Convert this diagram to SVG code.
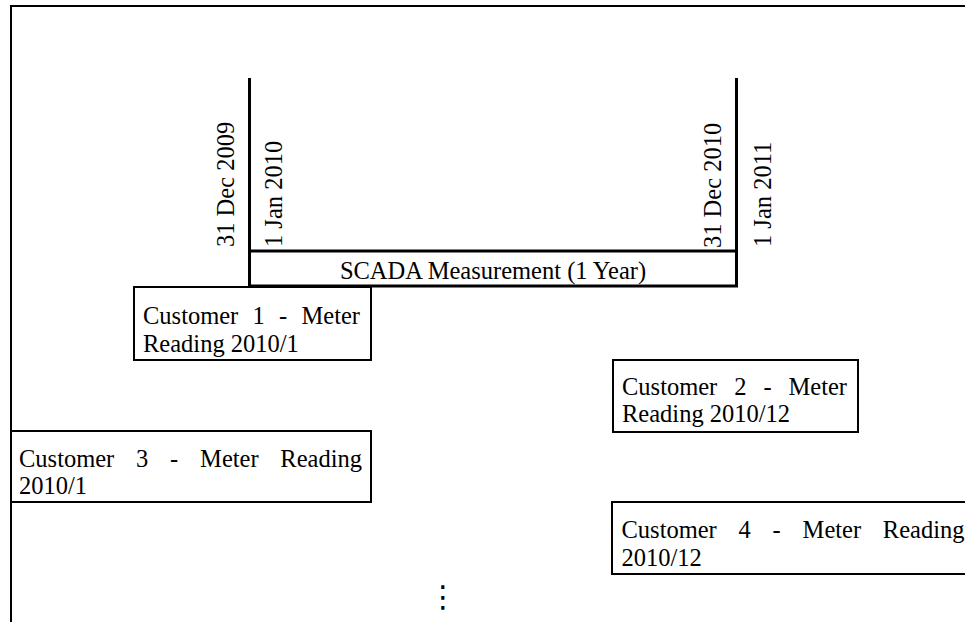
<svg xmlns="http://www.w3.org/2000/svg" width="965" height="622" viewBox="0 0 965 622">
<style>
  text { font-family: "Liberation Serif", "Times New Roman", serif; font-size: 24.5px; fill: #000; }
  .box { fill: #fff; stroke: #000; stroke-width: 2; }
  .frame { fill: none; stroke: #000; stroke-width: 2; }
  .scada { fill: none; stroke: #000; stroke-width: 3; }
  .end { text-anchor: end; }
</style>
<rect width="965" height="622" fill="#fff"/>
<g id="frame">
  <path class="frame" d="M11,622 V6 H966"/>
</g>
<g id="connectors">
  <path class="scada" d="M249.5,78 V286 H736.5 V78"/>
  <line class="scada" x1="249.5" y1="251" x2="736.5" y2="251"/>
</g>
<g id="dates">
  <text transform="translate(234,247) rotate(-90)">31 Dec 2009</text>
  <text transform="translate(282,247) rotate(-90)">1 Jan 2010</text>
  <text transform="translate(721,248) rotate(-90)">31 Dec 2010</text>
  <text transform="translate(771,247) rotate(-90)">1 Jan 2011</text>
</g>
<g id="scada">
  <text x="493" y="279" text-anchor="middle">SCADA Measurement (1 Year)</text>
</g>
<g id="customer1">
  <rect class="box" x="134" y="287" width="237" height="73"/>
  <text y="324"><tspan x="143">Customer</tspan><tspan x="252.6">1</tspan><tspan x="279.1">-</tspan><tspan x="360" class="end">Meter</tspan></text>
  <text x="143" y="352">Reading 2010/1</text>
</g>
<g id="customer2">
  <rect class="box" x="613" y="360" width="245" height="72"/>
  <text y="395"><tspan x="622">Customer</tspan><tspan x="734.2">2</tspan><tspan x="763.4">-</tspan><tspan x="847" class="end">Meter</tspan></text>
  <text x="622" y="422">Reading 2010/12</text>
</g>
<g id="customer3">
  <rect class="box" x="11" y="431" width="360" height="71"/>
  <text y="467"><tspan x="19">Customer</tspan><tspan x="136.1">3</tspan><tspan x="170.1">-</tspan><tspan x="200.1">Meter</tspan><tspan x="362" class="end">Reading</tspan></text>
  <text x="19" y="494">2010/1</text>
</g>
<g id="customer4">
  <rect class="box" x="612" y="502" width="362" height="72"/>
  <text y="538"><tspan x="621.5">Customer</tspan><tspan x="738.6">4</tspan><tspan x="772.6">-</tspan><tspan x="802.6">Meter</tspan><tspan x="964.5" class="end">Reading</tspan></text>
  <text x="621.5" y="566">2010/12</text>
</g>
<g id="ellipsis">
  <text x="443" y="607" text-anchor="middle" style="font-family: 'DejaVu Sans', sans-serif; font-size: 30px;">⋮</text>
</g>
</svg>
